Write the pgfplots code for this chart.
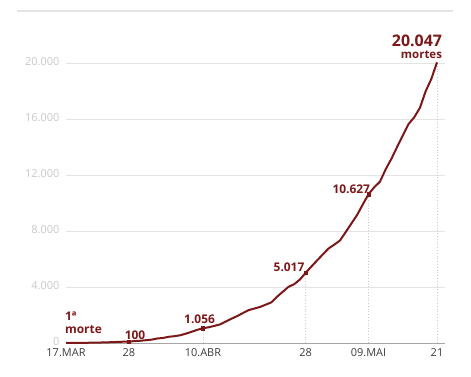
\documentclass[border=0pt]{standalone}
\usepackage{pgfplots}
\pgfplotsset{compat=1.18}
\usepackage{fontspec}
\setmainfont{Open Sans}
\definecolor{dred}{RGB}{125,24,24}
\definecolor{tgray}{RGB}{200,200,200}
\definecolor{ggray}{RGB}{228,228,228}
\definecolor{xgray}{RGB}{60,60,60}
\begin{document}
\begin{tikzpicture}
\path[use as bounding box] (-66bp,-34bp) rectangle (405bp,343bp);
\draw[ggray, line width=1.2bp] (-49bp,332bp) -- (387bp,332bp);
\begin{axis}[
  at={(0,0)}, anchor=south west,
  scale only axis, width=379bp, height=287bp,
  xmin=0, xmax=66.4, ymin=0, ymax=20500,
  clip=false,
  axis x line=bottom, axis y line=left,
  x axis line style={-, draw=gray!70, line width=0.8bp},
  y axis line style={-, draw=none},
  xtick={0,11,24,42,53,65},
  xticklabels={17.MAR,28,10.ABR,28,09.MAI,21},
  xtick style={draw=none},
  xticklabel style={text=xgray, font=\fontsize{11}{12}\selectfont, yshift=0bp},
  ytick={0,4000,8000,12000,16000,20000},
  scaled y ticks=false,
  ymajorgrids, y grid style={ggray, line width=0.8bp},
  ytick style={draw=none},
  yticklabel style={text=tgray, font=\fontsize{11}{12}\selectfont, xshift=-1bp, yshift=1.5bp, /pgf/number format/fixed},
  /pgf/number format/.cd, 1000 sep={.}, assume math mode=true,
]
% drop lines
\addplot[ycomb, dotted, draw=gray!40, line width=0.8bp, mark=none] coordinates {
(11,100) (24,1056) (42,5017) (53,10627) (65,20047)};
% main series
\addplot[dred, line width=2bp, mark=none, line join=round] coordinates {
(0,1) (1,4) (2,7) (3,11) (4,18) (5,25) (6,34) (7,46) (8,59) (9,77) (10,92)
(11,100) (12,136) (13,159) (14,201) (15,240) (16,324) (17,359) (18,445) (19,486)
(20,553) (21,667) (22,800) (23,941) (24,1056) (25,1124) (26,1223) (27,1328)
(28,1532) (29,1736) (30,1924) (31,2141) (32,2347) (33,2462) (34,2575) (35,2741)
(36,2906) (37,3313) (38,3670) (39,4016) (40,4205) (41,4543) (42,5017) (43,5466)
(44,5901) (45,6329) (46,6750) (47,7025) (48,7321) (49,7921) (50,8536) (51,9146)
(52,9897) (53,10627) (54,11123) (55,11519) (56,12400) (57,13149) (58,13993)
(59,14817) (60,15633) (61,16118) (62,16792) (63,17971) (64,18859) (65,20047)};
% markers
\addplot[only marks, mark=square*, mark size=1.7bp, dred] coordinates {
(11,100) (24,1056) (42,5017) (53,10627)};
% annotations
\node[anchor=south west, align=left, text=dred, font=\bfseries\fontsize{12}{13}\selectfont, inner sep=0pt] at (axis cs:-0.2,650) {1ª\\morte};
\node[anchor=south, text=dred, font=\bfseries\fontsize{12}{13}\selectfont, inner sep=0pt] at (axis cs:12.1,230) {100};
\node[anchor=south, text=dred, font=\bfseries\fontsize{12}{13}\selectfont, inner sep=0pt] at (axis cs:23.4,1350) {1.056};
\node[anchor=south east, text=dred, font=\bfseries\fontsize{12}{13}\selectfont, inner sep=0pt] at (axis cs:41.8,5050) {5.017};
\node[anchor=south east, text=dred, font=\bfseries\fontsize{12}{13}\selectfont, inner sep=0pt] at (axis cs:53.3,10650) {10.627};
\node[anchor=south east, align=right, text=dred, inner sep=0pt] at (axis cs:65.9,20300)
  {{\bfseries\fontsize{16}{16}\selectfont 20.047}\\[0.5bp]{\bfseries\fontsize{11.5}{12}\selectfont mortes}};
\end{axis}
\end{tikzpicture}
\end{document}
